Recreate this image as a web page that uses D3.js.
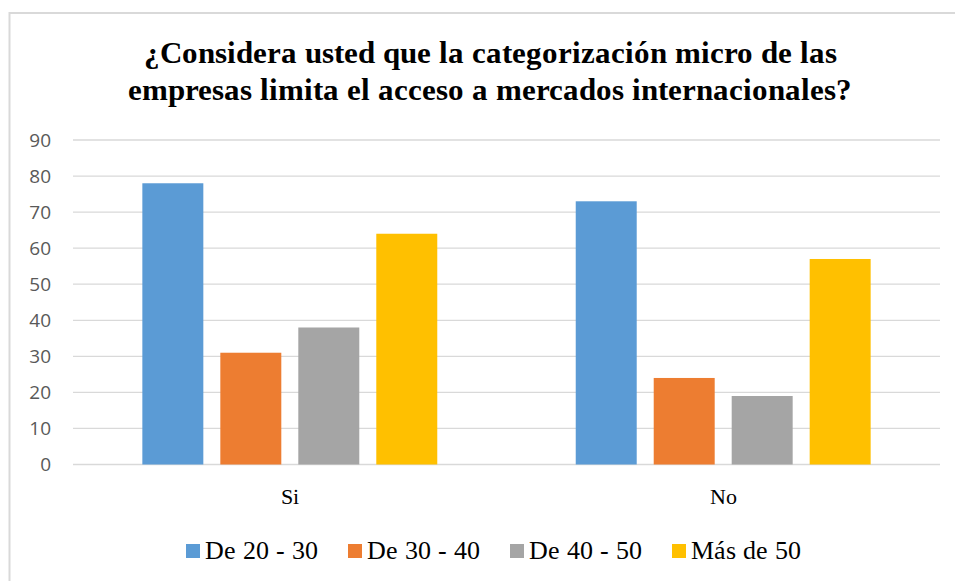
<!DOCTYPE html>
<html>
<head>
<meta charset="utf-8">
<script src="https://cdn.jsdelivr.net/npm/d3@7"></script>
<style>
	@font-face { font-family: 'ChartSerif'; src: local('Liberation Serif'), local('LiberationSerif'), local('Times New Roman'); font-weight: 400; }
	@font-face { font-family: 'ChartSerif'; src: local('Liberation Serif Bold'), local('LiberationSerif-Bold'), local('Times New Roman Bold'); font-weight: 700; }
	body { margin: 0; background: #fff; }
</style>
</head>
<body>
<div id="chart"></div>
<script>
/*globals d3*/

// chart data
const titleLines = ['¿Considera usted que la categorización micro de las', 'empresas limita el acceso a mercados internacionales?'];
const categories = ['Si', 'No'];
const seriesNames = ['De 20 - 30', 'De 30 - 40', 'De 40 - 50', 'Más de 50'];
const seriesColors = ['#5B9BD5', '#ED7D31', '#A5A5A5', '#FFC000'];
const de20a30 = [78, 73];
const de30a40 = [31, 24];
const de40a50 = [38, 19];
const masDe50 = [64, 57];
const yTicks = [0, 10, 20, 30, 40, 50, 60, 70, 80, 90];

(function () {
	'use strict';
	const width = 955;
	const height = 581;
	const gridColor = '#D9D9D9';
	const serifFont = 'ChartSerif, Liberation Serif, Times New Roman';
	const sansFont = 'Open Sans';
	const plot = { left: 73, right: 940, top: 140, bottom: 464.5 };
	const seriesValues = [de20a30, de30a40, de40a50, masDe50];
	let svg;

	function drawSvg() {
		d3.selectAll('#chart svg').remove();
		svg = d3.select('#chart').append('svg')
			.attr('width', width)
			.attr('height', height);
		svg.append('rect')
			.attr('width', width).attr('height', height)
			.attr('fill', '#fff');
		// outer chart frame (cropped on the right and bottom)
		svg.append('rect')
			.attr('x', 9.5).attr('y', 13)
			.attr('width', width + 20).attr('height', height + 20)
			.attr('fill', 'none')
			.attr('stroke', gridColor)
			.attr('stroke-width', 2);
	}

	function writeTitle() {
		svg.append('text')
			.attr('font-family', serifFont)
			.attr('font-weight', 'bold')
			.attr('font-size', 31)
			.attr('fill', '#000')
			.attr('text-anchor', 'middle')
			.selectAll('tspan')
			.data(titleLines)
			.join('tspan')
			.attr('x', 490)
			.attr('y', function (d, i) { return 63 + i * 37; })
			.text(function (d) { return d; });
	}

	function drawChart() {
		const y = d3.scaleLinear()
			.domain([0, 90])
			.range([plot.bottom, plot.top]);
		const x0 = d3.scaleBand()
			.domain(categories)
			.range([plot.left, plot.right])
			.paddingInner(0.3195)
			.paddingOuter(0.16);
		const x1 = d3.scaleBand()
			.domain(seriesNames)
			.range([0, x0.bandwidth()])
			.paddingInner(0.218);

		// gridlines
		svg.append('g')
			.selectAll('line')
			.data(yTicks)
			.join('line')
			.attr('x1', plot.left).attr('x2', plot.right)
			.attr('y1', function (d) { return y(d); })
			.attr('y2', function (d) { return y(d); })
			.attr('stroke', gridColor)
			.attr('stroke-width', 1.3);

		// y axis labels
		const yAxis = d3.axisLeft(y).tickValues(yTicks).tickSize(0).tickPadding(0);
		const yAxisG = svg.append('g')
			.attr('transform', 'translate(51,0)')
			.call(yAxis);
		yAxisG.select('.domain').remove();
		yAxisG.attr('font-family', sansFont).attr('font-size', 19);
		yAxisG.selectAll('text').attr('fill', '#595959');

		// bars
		const groups = svg.append('g')
			.selectAll('g')
			.data(categories)
			.join('g')
			.attr('transform', function (c) { return 'translate(' + x0(c) + ',0)'; });
		groups.selectAll('rect')
			.data(function (c, ci) {
				return seriesNames.map(function (s, si) {
					return { name: s, value: seriesValues[si][ci], color: seriesColors[si] };
				});
			})
			.join('rect')
			.attr('x', function (d) { return x1(d.name); })
			.attr('width', x1.bandwidth())
			.attr('y', function (d) { return y(d.value); })
			.attr('height', function (d) { return y(0) - y(d.value); })
			.attr('fill', function (d) { return d.color; });

		// category labels
		svg.append('g')
			.selectAll('text')
			.data(categories)
			.join('text')
			.attr('font-family', serifFont)
			.attr('font-size', 22)
			.attr('fill', '#000')
			.attr('text-anchor', 'middle')
			.attr('x', function (c) { return x0(c) + x0.bandwidth() / 2; })
			.attr('y', 504)
			.text(function (c) { return c; });
	}

	function drawLegend() {
		// legend entries spaced evenly
		const lx = d3.scalePoint()
			.domain(seriesNames)
			.range([186, 672]);
		const items = svg.append('g')
			.selectAll('g')
			.data(seriesNames)
			.join('g')
			.attr('transform', function (d) { return 'translate(' + lx(d) + ',0)'; });
		items.append('rect')
			.attr('x', 0).attr('y', 544)
			.attr('width', 14).attr('height', 14)
			.attr('fill', function (d, i) { return seriesColors[i]; });
		items.append('text')
			.attr('font-family', serifFont)
			.attr('font-size', 26)
			.attr('fill', '#000')
			.attr('x', 19).attr('y', 559)
			.text(function (d) { return d; });
	}

	drawSvg();
	writeTitle();
	drawChart();
	drawLegend();
})();
</script>
</body>
</html>
